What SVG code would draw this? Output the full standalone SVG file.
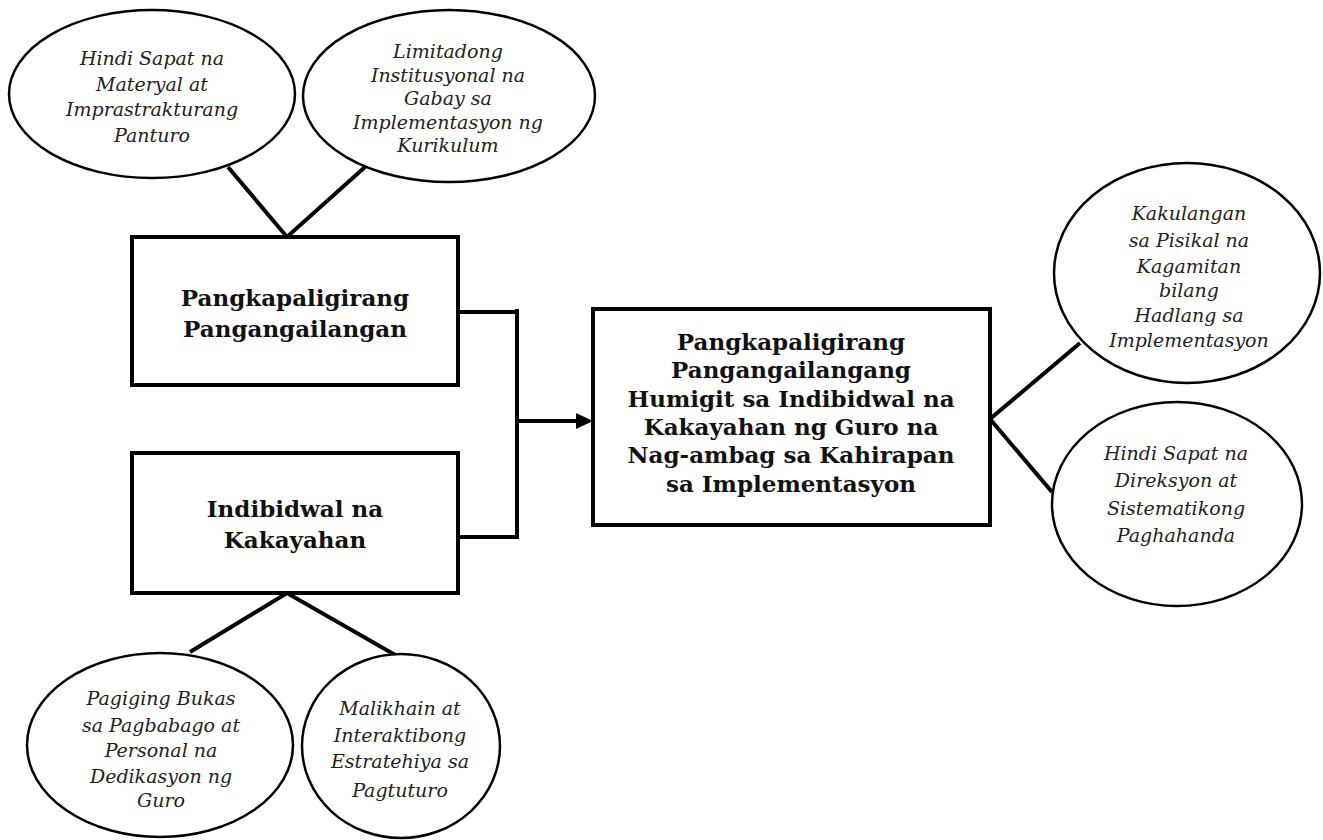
<svg xmlns="http://www.w3.org/2000/svg" width="1323" height="840" viewBox="0 0 1323 840">
<style>
.bg{fill:#fff}
.box{fill:#fff;stroke:#000;stroke-width:4}
.ell{fill:#fff;stroke:#000;stroke-width:2.5}
.ln{fill:none;stroke:#000;stroke-width:4}
.bt{font-family:"DejaVu Serif","Liberation Serif",serif;font-weight:bold;font-size:23px;fill:#111;text-anchor:middle}
.it{font-family:"DejaVu Serif","Liberation Serif",serif;font-style:italic;font-size:19px;fill:#222;text-anchor:middle}
</style>
<rect class="bg" x="0" y="0" width="1323" height="840"/>
<g id="connectors">
<path class="ln" d="M228,167 L287,237 L365,167"/>
<path class="ln" d="M458,312 L517,312 M517,309 L517,539 M458,537 L517,537"/>
<path class="ln" d="M517,421 L578,421"/>
<path d="M576,413 L593,421 L576,429 Z" fill="#000"/>
<path class="ln" d="M1080,343 L990,419 L1052,492"/>
<path class="ln" d="M190,652 L287,593 L397,656"/>
</g>
<g id="e1">
<ellipse class="ell" cx="152" cy="94" rx="143" ry="84"/>
<text class="it" x="152" y="65">Hindi Sapat na</text>
<text class="it" x="152" y="91">Materyal at</text>
<text class="it" x="152" y="116">Imprastrakturang</text>
<text class="it" x="152" y="142">Panturo</text>
</g>
<g id="e2">
<ellipse class="ell" cx="449" cy="96" rx="146" ry="86"/>
<text class="it" x="448" y="58">Limitadong</text>
<text class="it" x="448" y="82">Institusyonal na</text>
<text class="it" x="448" y="105">Gabay sa</text>
<text class="it" x="448" y="129">Implementasyon ng</text>
<text class="it" x="448" y="152">Kurikulum</text>
</g>
<g id="box1">
<rect class="box" x="132" y="237" width="326" height="148"/>
<text class="bt" x="295" y="306">Pangkapaligirang</text>
<text class="bt" x="295" y="337">Pangangailangan</text>
</g>
<g id="box2">
<rect class="box" x="132" y="453" width="326" height="140"/>
<text class="bt" x="295" y="517">Indibidwal na</text>
<text class="bt" x="295" y="548">Kakayahan</text>
</g>
<g id="box3">
<rect class="box" x="593" y="309" width="397" height="216"/>
<text class="bt" x="791" y="350">Pangkapaligirang</text>
<text class="bt" x="791" y="378">Pangangailangang</text>
<text class="bt" x="791" y="407">Humigit sa Indibidwal na</text>
<text class="bt" x="791" y="435">Kakayahan ng Guro na</text>
<text class="bt" x="791" y="463">Nag-ambag sa Kahirapan</text>
<text class="bt" x="791" y="492">sa Implementasyon</text>
</g>
<g id="e3">
<ellipse class="ell" cx="1187" cy="273" rx="133" ry="110"/>
<text class="it" x="1189" y="220">Kakulangan</text>
<text class="it" x="1189" y="247">sa Pisikal na</text>
<text class="it" x="1189" y="273">Kagamitan</text>
<text class="it" x="1189" y="297">bilang</text>
<text class="it" x="1189" y="322">Hadlang sa</text>
<text class="it" x="1189" y="347">Implementasyon</text>
</g>
<g id="e4">
<ellipse class="ell" cx="1177" cy="504" rx="125" ry="102"/>
<text class="it" x="1176" y="460">Hindi Sapat na</text>
<text class="it" x="1176" y="487">Direksyon at</text>
<text class="it" x="1176" y="515">Sistematikong</text>
<text class="it" x="1176" y="542">Paghahanda</text>
</g>
<g id="e5">
<ellipse class="ell" cx="160" cy="745" rx="133" ry="92"/>
<text class="it" x="161" y="705">Pagiging Bukas</text>
<text class="it" x="161" y="732">sa Pagbabago at</text>
<text class="it" x="161" y="757">Personal na</text>
<text class="it" x="161" y="783">Dedikasyon ng</text>
<text class="it" x="161" y="807">Guro</text>
</g>
<g id="e6">
<ellipse class="ell" cx="401" cy="746" rx="99" ry="92"/>
<text class="it" x="400" y="715">Malikhain at</text>
<text class="it" x="400" y="742">Interaktibong</text>
<text class="it" x="400" y="768">Estratehiya sa</text>
<text class="it" x="400" y="797">Pagtuturo</text>
</g>
</svg>
